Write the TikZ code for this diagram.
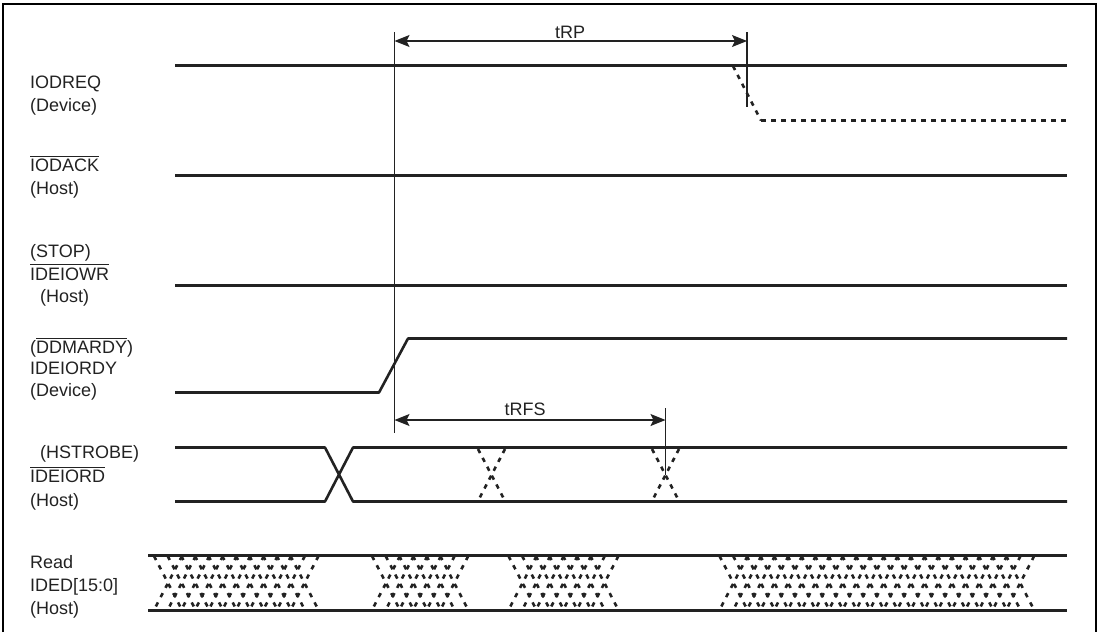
\documentclass[tikz,border=0pt]{standalone}
\usepackage{fontspec}
\setmainfont{Liberation Sans}
\usetikzlibrary{arrows.meta}
\definecolor{ink}{HTML}{222222}
\newcommand{\ovl}[1]{\mbox{$\overline{\mbox{\rule{0pt}{14.3pt}#1}}$}}
\tikzset{
  framing/.style={line width=2.6pt,black},
  sig/.style={line width=2.6pt,ink,line join=round},
  sigdash/.style={sig,dash pattern=on 4.5pt off 5.5pt},
  flatdash/.style={sig,dash pattern=on 5pt off 5pt},
  hatch/.style={line width=2.6pt,ink,dash pattern=on 4.5pt off 5.96pt},
  marker/.style={line width=1.2pt,ink},
  span/.style={line width=1.2pt,ink,{Stealth[length=15pt,width=12pt,inset=3pt]}-{Stealth[length=15pt,width=12pt,inset=3pt]}},
  lbl/.style={anchor=north west,inner sep=0pt,align=left,text=ink,font=\fontsize{18}{23}\selectfont},
  tlbl/.style={anchor=base,inner sep=0pt,text=ink,font=\fontsize{18}{23}\selectfont}
}
\newcommand{\hatchgroup}[2]{% left x, number of steps
  \foreach \k in {0,...,#2}{
    \pgfmathsetmacro{\xa}{#1+13.65*\k}
    \pgfmathsetmacro{\xb}{\xa+28}
    \draw[hatch] (\xa,556) -- (\xb,610);
    \draw[hatch] (\xb,556) -- (\xa,610);
  }}
\begin{document}
\begin{tikzpicture}[x=1pt,y=-1pt]
\useasboundingbox (0,0) rectangle (1100,632);
\draw[framing] (3,632) -- (3,4) -- (1096,4) -- (1096,632);

% labels
\node[lbl] (l1) at (30,72) {\strut IODREQ\\\strut (Device)};
\node[lbl] (l2) at (30,155) {\strut\ovl{IODACK}\\\strut (Host)};
\node[lbl] (l3) at (30,241) {\strut (STOP)\\[-1.5pt]\strut\ovl{IDEIOWR}\\[-0.5pt]\strut\ \ (Host)};
\node[lbl] (l4) at (30,337) {\strut (\ovl{DDMARDY})\\[-2pt]\strut IDEIORDY\\[-1pt]\strut (Device)};
\node[lbl] (l5) at (30,442) {\strut\hspace{10pt}(HSTROBE)\\\strut\ovl{IDEIORD}\\[1pt]\strut (Host)};
\node[lbl] (l6) at (30,552) {\strut Read\\\strut IDED[15:0]\\\strut (Host)};
\node[tlbl] (trp) at (570,38) {tRP};
\node[tlbl] (trfs) at (525,415) {tRFS};

% signal ends
\coordinate (a0) at (175,65.5);   \coordinate (a1) at (1067,65.5);
\coordinate (a2) at (733,66);     \coordinate (a3) at (761,120.5); \coordinate (a4) at (1067,120.5);
\coordinate (b0) at (175,175.5);  \coordinate (b1) at (1067,175.5);
\coordinate (c0) at (175,285.5);  \coordinate (c1) at (1067,285.5);
\coordinate (d0) at (175,392.5);  \coordinate (d1) at (379,392.5);
\coordinate (d2) at (408,338.5);  \coordinate (d3) at (1067,338.5);
\coordinate (e0) at (175,447.5);  \coordinate (e1) at (325,447.5);
\coordinate (e2) at (353,447.5);  \coordinate (e3) at (1067,447.5);
\coordinate (f0) at (175,501.5);  \coordinate (f1) at (325,501.5);
\coordinate (f2) at (353,501.5);  \coordinate (f3) at (1067,501.5);
\coordinate (g0) at (148,555.5);  \coordinate (g1) at (1067,555.5);
\coordinate (h0) at (148,610.5);  \coordinate (h1) at (1067,610.5);

\draw[sig] (a0) -- (a1);
\draw[sigdash] (a2) -- (a3);
\draw[flatdash] (a3) -- (a4);
\draw[sig] (b0) -- (b1);
\draw[sig] (c0) -- (c1);
\draw[sig] (d0) -- (d1) -- (d2) -- (d3);
\draw[sig] (e0) -- (e1) -- (f2) -- (f3);
\draw[sig] (f0) -- (f1) -- (e2) -- (e3);
\draw[sigdash] (478,449) -- (505,501);
\draw[sigdash] (505,449) -- (478,501);
\draw[sigdash] (652,449) -- (679,501);
\draw[sigdash] (679,449) -- (652,501);

% hatched bus
\draw[sig] (g0) -- (g1);
\draw[sig] (h0) -- (h1);
\hatchgroup{154}{10}
\hatchgroup{372}{5}
\hatchgroup{508.5}{6}
\hatchgroup{719.5}{21}

% timing markers
\coordinate (m1t) at (394.5,32);  \coordinate (m1b) at (394.5,433);
\coordinate (m2t) at (747,32);    \coordinate (m2b) at (747,107);
\coordinate (m3t) at (665.5,408); \coordinate (m3b) at (665.5,475);
\coordinate (s1a) at (394.5,41);  \coordinate (s1b) at (747,41);
\coordinate (s2a) at (394.5,420); \coordinate (s2b) at (665.5,420);
\draw[marker] (m1t) -- (m1b);
\draw[marker] (m2t) -- (m2b);
\draw[marker] (m3t) -- (m3b);
\draw[span] (s1a) -- (s1b);
\draw[span] (s2a) -- (s2b);
\end{tikzpicture}
\end{document}
